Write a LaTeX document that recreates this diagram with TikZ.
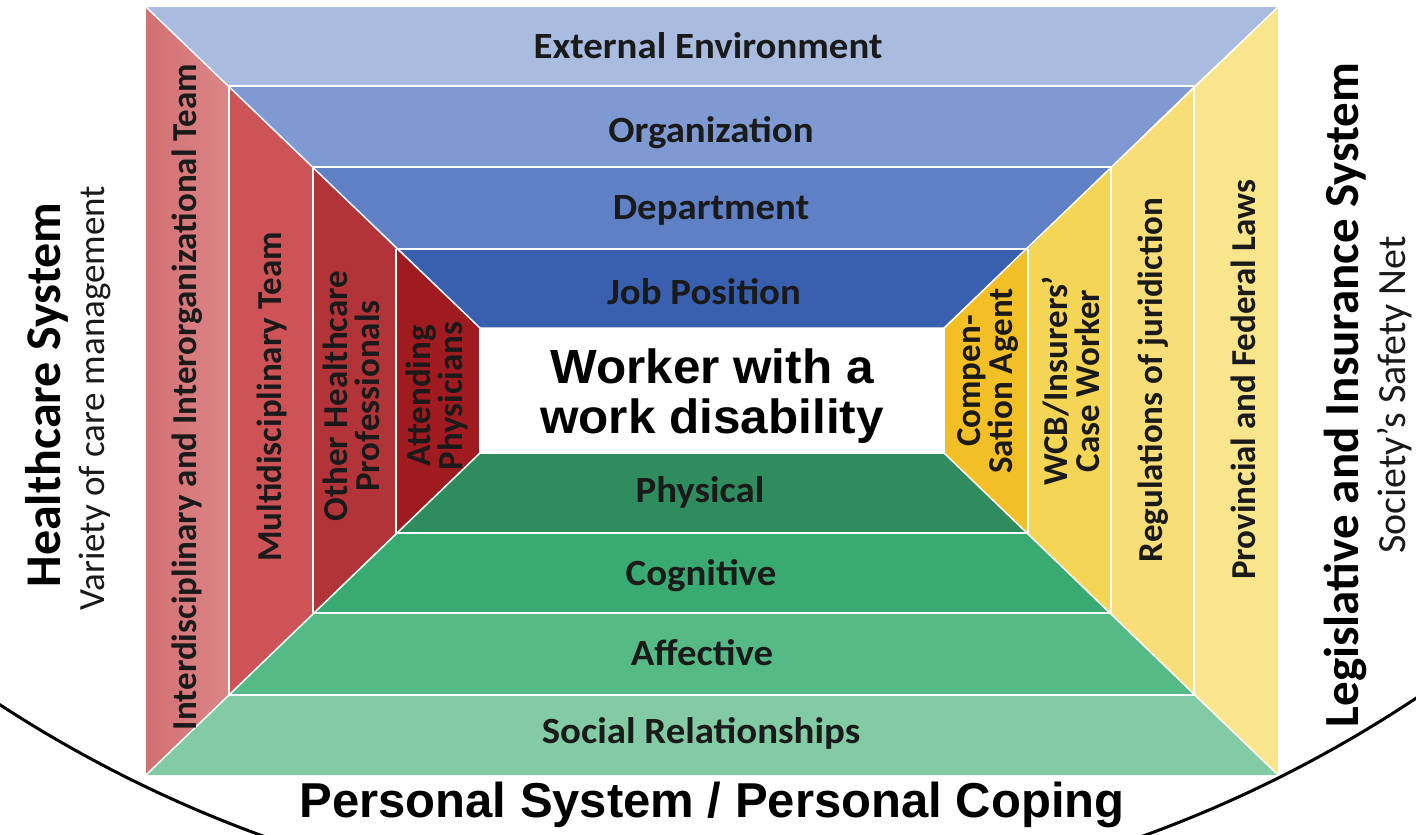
\documentclass[tikz,border=0pt]{standalone}
\usepackage{fontspec}
\setmainfont{Carlito}
\newfontfamily\arialf{Liberation Sans}
\definecolor{cExt}{HTML}{A9BCE0}
\definecolor{cOrg}{HTML}{7F9AD2}
\definecolor{cDep}{HTML}{5F80C4}
\definecolor{cJob}{HTML}{395FAF}
\definecolor{cIntL}{HTML}{D27073}
\definecolor{cIntR}{HTML}{DC8587}
\definecolor{cMul}{HTML}{CD5356}
\definecolor{cOth}{HTML}{B23438}
\definecolor{cAtt}{HTML}{A01B20}
\definecolor{cCom}{HTML}{F2C026}
\definecolor{cWcb}{HTML}{F5D555}
\definecolor{cReg}{HTML}{F7DE78}
\definecolor{cPro}{HTML}{F8E58C}
\definecolor{cPhy}{HTML}{2E8C5E}
\definecolor{cCog}{HTML}{3AAA73}
\definecolor{cAff}{HTML}{56BA87}
\definecolor{cSoc}{HTML}{82CBA5}
\definecolor{txt}{HTML}{1A1A1A}
\tikzset{
  panel/.style={draw=white, line width=1.5pt, line join=miter},
  bandlbl/.style={font=\fontsize{37}{37}\selectfont\bfseries, text=txt, inner sep=0pt, xscale=1.05},
  collbl/.style={font=\fontsize{35}{32}\selectfont\bfseries, text=txt, inner sep=0pt, rotate=90, align=center},
  titlelbl/.style={font=\fontsize{50}{50}\selectfont\bfseries, text=black, inner sep=0pt, rotate=90},
  sublbl/.style={font=\fontsize{37}{37}\selectfont, text=txt, inner sep=0pt, rotate=90},
}
\begin{document}
\begin{tikzpicture}[x=1pt,y=-1pt]
\useasboundingbox (0,0) rectangle (1416,835);
\fill[white] (0,0) rectangle (1416,835);
% arc of the personal system
\begin{scope}
\clip (0,0) rectangle (1416,835);
\draw[line width=3pt, black] (703,-377) circle[radius=1290];
\end{scope}
% corner coordinates
\def\La{146}\def\Lb{229}\def\Lc{313}\def\Ld{396}\def\Le{480}
\def\Ra{1278}\def\Rb{1194}\def\Rc{1111}\def\Rd{1028}\def\Re{944}
\def\Ta{7}\def\Tb{86}\def\Tc{167}\def\Td{249}\def\Te{328}
\def\Ba{775}\def\Bb{695}\def\Bc{613}\def\Bd{533}\def\Be{453}
% top bands
\fill[fill=cExt] (\La,\Ta) -- (\Ra,\Ta) -- (\Rb,\Tb) -- (\Lb,\Tb) -- cycle;
\fill[fill=cOrg] (\Lb,\Tb) -- (\Rb,\Tb) -- (\Rc,\Tc) -- (\Lc,\Tc) -- cycle;
\fill[fill=cDep] (\Lc,\Tc) -- (\Rc,\Tc) -- (\Rd,\Td) -- (\Ld,\Td) -- cycle;
\fill[fill=cJob] (\Ld,\Td) -- (\Rd,\Td) -- (\Re,\Te) -- (\Le,\Te) -- cycle;
% bottom bands
\fill[fill=cSoc] (\La,\Ba) -- (\Ra,\Ba) -- (\Rb,\Bb) -- (\Lb,\Bb) -- cycle;
\fill[fill=cAff] (\Lb,\Bb) -- (\Rb,\Bb) -- (\Rc,\Bc) -- (\Lc,\Bc) -- cycle;
\fill[fill=cCog] (\Lc,\Bc) -- (\Rc,\Bc) -- (\Rd,\Bd) -- (\Ld,\Bd) -- cycle;
\fill[fill=cPhy] (\Ld,\Bd) -- (\Rd,\Bd) -- (\Re,\Be) -- (\Le,\Be) -- cycle;
% left columns
\shade[left color=cIntL, right color=cIntR] (\La,\Ta) -- (\Lb,\Tb) -- (\Lb,\Bb) -- (\La,\Ba) -- cycle;
\fill[fill=cMul] (\Lb,\Tb) -- (\Lc,\Tc) -- (\Lc,\Bc) -- (\Lb,\Bb) -- cycle;
\fill[fill=cOth] (\Lc,\Tc) -- (\Ld,\Td) -- (\Ld,\Bd) -- (\Lc,\Bc) -- cycle;
\fill[fill=cAtt] (\Ld,\Td) -- (\Le,\Te) -- (\Le,\Be) -- (\Ld,\Bd) -- cycle;
% right columns
\fill[fill=cPro] (\Ra,\Ta) -- (\Rb,\Tb) -- (\Rb,\Bb) -- (\Ra,\Ba) -- cycle;
\fill[fill=cReg] (\Rb,\Tb) -- (\Rc,\Tc) -- (\Rc,\Bc) -- (\Rb,\Bb) -- cycle;
\fill[fill=cWcb] (\Rc,\Tc) -- (\Rd,\Td) -- (\Rd,\Bd) -- (\Rc,\Bc) -- cycle;
\fill[fill=cCom] (\Rd,\Td) -- (\Re,\Te) -- (\Re,\Be) -- (\Rd,\Bd) -- cycle;
% white separators
\draw[panel] (\La,\Ta) -- (\Le,\Te) -- (\Re,\Te) -- (\Ra,\Ta);
\draw[panel] (\La,\Ba) -- (\Le,\Be) -- (\Re,\Be) -- (\Ra,\Ba);
\draw[panel] (\Lb,\Tb) -- (\Rb,\Tb) (\Lc,\Tc) -- (\Rc,\Tc) (\Ld,\Td) -- (\Rd,\Td);
\draw[panel] (\Lb,\Bb) -- (\Rb,\Bb) (\Lc,\Bc) -- (\Rc,\Bc) (\Ld,\Bd) -- (\Rd,\Bd);
\draw[panel] (\Lb,\Tb) -- (\Lb,\Bb) (\Lc,\Tc) -- (\Lc,\Bc) (\Ld,\Td) -- (\Ld,\Bd) (\Le,\Te) -- (\Le,\Be);
\draw[panel] (\Rb,\Tb) -- (\Rb,\Bb) (\Rc,\Tc) -- (\Rc,\Bc) (\Rd,\Td) -- (\Rd,\Bd) (\Re,\Te) -- (\Re,\Be);
% band labels
\node[bandlbl] (ext) at (708,46) {External Environment};
\node[bandlbl] (org) at (711,133) {Organization};
\node[bandlbl] (dep) at (711,210) {Department};
\node[bandlbl] (job) at (704,292) {Job Position};
\node[bandlbl] (phy) at (700,492) {Physical};
\node[bandlbl] (cog) at (701,576) {Cognitive};
\node[bandlbl] (aff) at (702,653) {Affective};
\node[bandlbl] (soc) at (701,733) {Social Relationships};
% center
\node[font=\arialf\fontsize{48}{50}\selectfont\bfseries, align=center, inner sep=0pt, text=black, xscale=1.03] (worker) at (712,396) {Worker with a\\work disability};
% column labels
\node[collbl] (int) at (187,397) {Interdisciplinary and Interorganizational Team};
\node[collbl] (mul) at (272,397) {Multidisciplinary Team};
\node[collbl] (oth) at (351,396) {Other Healthcare\\Professionals};
\node[collbl, font=\fontsize{35}{28}\selectfont\bfseries] (att) at (437,396) {Attending\\Physicians};
\node[collbl] (com) at (988,381) {Compen-\\Sation Agent};
\node[collbl] (wcb) at (1071,381) {WCB/Insurers’\\Case Worker};
\node[collbl] (reg) at (1153,380) {Regulations of juridiction};
\node[collbl] (pro) at (1243,380) {Provincial and Federal Laws};
% side titles
\node[titlelbl] (hcs) at (47,395) {Healthcare System};
\node[sublbl] (var) at (95,398) {Variety of care management};
\node[titlelbl, font=\fontsize{49}{49}\selectfont\bfseries] (lis) at (1345,395) {Legislative and Insurance System};
\node[sublbl, font=\fontsize{40}{40}\selectfont] (soc2) at (1395,395) {Society’s Safety Net};
% bottom title
\node[font=\arialf\fontsize{49}{49}\selectfont\bfseries, inner sep=0pt, text=black] (pers) at (712,805) {Personal System / Personal Coping};
\end{tikzpicture}
\end{document}
